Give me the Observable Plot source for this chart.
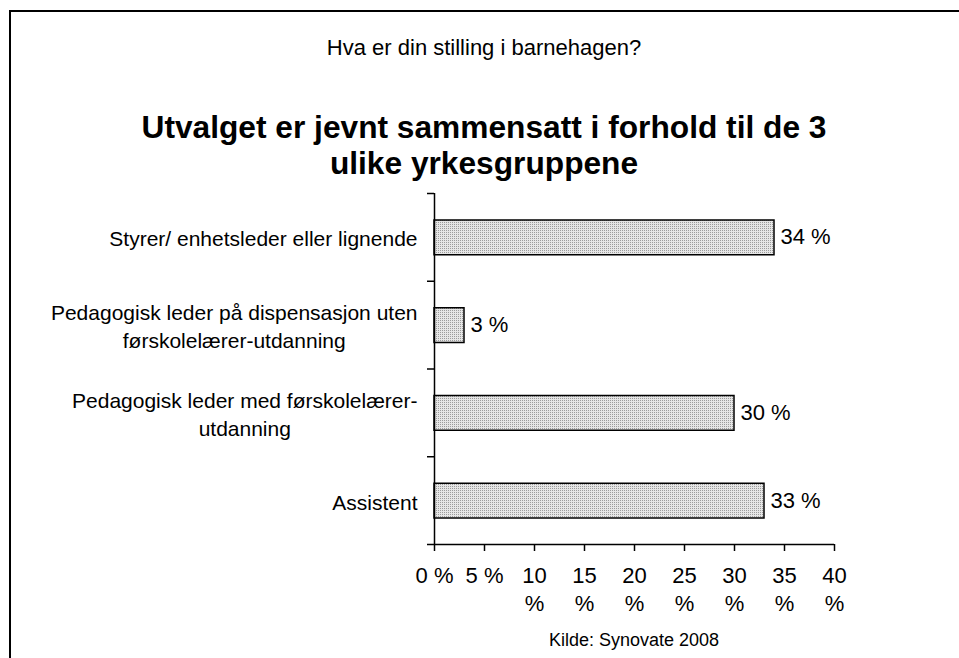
<!DOCTYPE html>
<html><head><meta charset="utf-8">
<script src="https://cdn.jsdelivr.net/npm/d3@7"></script>
<script src="https://cdn.jsdelivr.net/npm/@observablehq/plot@0.6"></script>
<style>
body{margin:0;background:#fff;font-family:"Liberation Sans",Arial,sans-serif;color:#000}
#page{position:relative;width:959px;height:658px;overflow:hidden;background:#fff}
#frame{position:absolute;left:9px;top:10px;width:2000px;height:2000px;border-left:2px solid #000;border-top:2px solid #000;box-sizing:border-box}
.t{position:absolute;left:10px;width:948px;text-align:center;white-space:nowrap}
#sub{top:37px;font-size:22px;line-height:22px}
#title{top:109px;font-size:31.7px;font-weight:bold;line-height:36px}
#chart{position:absolute;left:0;top:180px}
#cap{position:absolute;left:434px;width:400px;text-align:center;top:631px;font-size:18px;line-height:18px;white-space:nowrap}
</style></head>
<body>
<div id="page">
  <div id="frame"></div>
  <div class="t" id="sub">Hva er din stilling i barnehagen?</div>
  <div class="t" id="title">Utvalget er jevnt sammensatt i forhold til de 3<br>ulike yrkesgruppene</div>
  <div id="chart"></div>
  <div id="cap">Kilde: Synovate 2008</div>
</div>
<script>
const categories = [
  "Styrer/ enhetsleder eller lignende",
  "Pedagogisk leder på dispensasjon uten\nførskolelærer-utdanning",
  "Pedagogisk leder med førskolelærer-\nutdanning",
  "Assistent"
];
const values = [34, 3, 30, 33];
const xTicks = [0, 5, 10, 15, 20, 25, 30, 35, 40];
const xTickLabels = ["0 %", "5 %", "10\n%", "15\n%", "20\n%", "25\n%", "30\n%", "35\n%", "40\n%"];

const FONT = '"Liberation Sans", Arial, sans-serif';
const FS = 22;
const FS_CAT = 21;
const data = categories.map((c, i) => ({cat: c, idx: i, value: values[i]}));

const ctx = document.createElement("canvas").getContext("2d");
ctx.font = `${FS_CAT}px ${FONT}`;
const maxW = s => Math.max(...s.split("\n").map(l => ctx.measureText(l).width));

const svg = Plot.plot({
  width: 959,
  height: 440,
  marginLeft: 434,
  marginRight: 125,
  marginTop: 13,
  marginBottom: 76,
  style: {fontFamily: FONT, fontSize: FS + "px", color: "#000", background: "transparent", overflow: "visible"},
  x: {domain: [0, 40], axis: null},
  y: {domain: [0, categories.length], reverse: true, axis: null},
  marks: [
    Plot.rect(data, {x1: () => 0, x2: "value", y1: "idx", y2: d => d.idx + 1,
      insetTop: 27, insetBottom: 26, fill: "url(#dots)", stroke: "#000", strokeWidth: 1.5}),
    Plot.ruleX([0], {stroke: "#000", strokeWidth: 1.5}),
    Plot.ruleY([categories.length], {stroke: "#000", strokeWidth: 1.5}),
    Plot.axisY({ticks: d3.range(categories.length + 1), tickSize: 7, tickFormat: () => "", label: null, strokeWidth: 1.5}),
    Plot.axisX({ticks: xTicks, tickSize: 7, tickPadding: 11, strokeWidth: 1.5, lineHeight: 1.3, label: null,
      fontSize: FS, tickFormat: d => xTickLabels[xTicks.indexOf(d)]}),
    ...categories.map((c, i) => Plot.text([c], {
      x: () => 0, y: () => i + 0.5, text: d => d, textAnchor: "middle",
      dx: -(17 + maxW(c) / 2), lineHeight: 1.33, fontSize: FS_CAT, fill: "#000"
    })),
    Plot.text(data, {x: "value", y: d => d.idx + 0.5, text: d => d.value + " %", dx: 6,
      textAnchor: "start", fontSize: FS, fill: "#000"})
  ]
});

const ns = "http://www.w3.org/2000/svg";
const defs = document.createElementNS(ns, "defs");
defs.innerHTML = '<pattern id="dots" width="2" height="2" patternUnits="userSpaceOnUse">' +
  '<rect width="2" height="2" fill="#e6e6e6"/>' +
  '<rect width="1" height="1" fill="#9c9c9c"/></pattern>';
svg.prepend(defs);
document.getElementById("chart").appendChild(svg);
</script>
</body></html>
